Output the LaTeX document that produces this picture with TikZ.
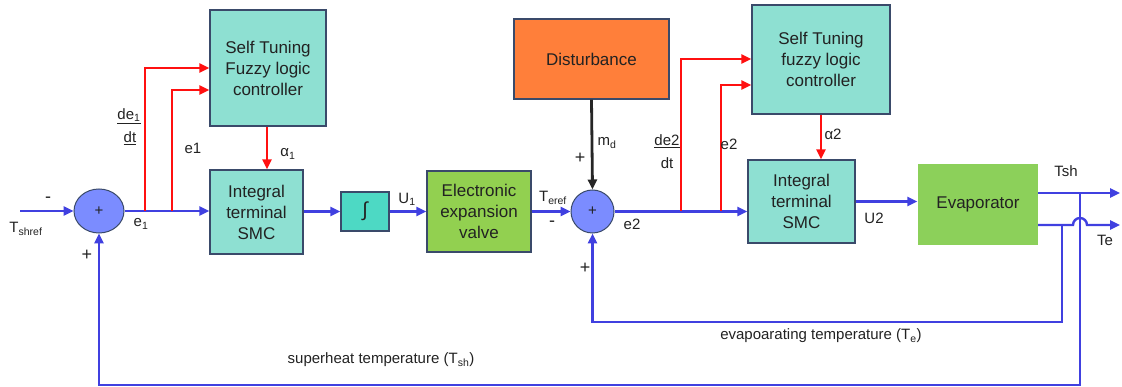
\documentclass[tikz,border=0pt]{standalone}
\usepackage{fontspec}
\setmainfont{Liberation Sans}
\usetikzlibrary{arrows.meta}
\definecolor{bl}{HTML}{4040E0}
\definecolor{rd}{HTML}{FF1010}
\definecolor{sumfill}{HTML}{7B8CFF}
\definecolor{fuzzyfill}{HTML}{8EE0D2}
\definecolor{intfill}{HTML}{4DD9C4}
\definecolor{eevfill}{HTML}{92D050}
\definecolor{evfill}{HTML}{8CD05A}
\definecolor{distfill}{HTML}{FF7F3A}
\definecolor{edge}{HTML}{3A4A6A}
\definecolor{txt}{HTML}{222222}
\tikzset{
  blk/.style={draw=edge, line width=1.3pt, inner sep=0pt, align=center, text=txt,
    font=\fontsize{17}{21}\selectfont},
  sumnode/.style={ellipse, draw=edge, line width=1pt, fill=sumfill, inner sep=0pt,
    font=\fontsize{15}{16}\selectfont, text=txt},
  bline/.style={bl, line width=2.4pt},
  rline/.style={rd, line width=2.4pt},
  arr/.style={-{Triangle[length=10pt,width=9pt]}},
  lbl/.style={text=txt, font=\fontsize{15}{18}\selectfont, inner sep=0pt},
  sgn/.style={text=txt, font=\fontsize{18}{18}\selectfont, inner sep=0pt},
}
\usetikzlibrary{shapes.geometric}
\begin{document}
\begin{tikzpicture}[x=1pt,y=-1pt]
\useasboundingbox (0,0) rectangle (1122,387);
% nodes
\node[sumnode, minimum width=50pt, minimum height=44pt] (sum1) at (99,211) {+};
\node[sumnode, minimum width=43pt, minimum height=43pt] (sum2) at (592.5,211.5) {+};
\node[blk, fill=fuzzyfill, minimum width=116pt, minimum height=116pt] (fz1) at (268,68) {Self Tuning\\Fuzzy logic\\controller};
\node[blk, fill=fuzzyfill, minimum width=93pt, minimum height=84pt] (smc1) at (256.5,212) {Integral\\terminal\\SMC};
\node[blk, fill=intfill, minimum width=48pt, minimum height=39pt, font=\fontsize{20}{24}\selectfont] (int) at (365,211.5) {∫};
\node[blk, fill=eevfill, minimum width=104pt, minimum height=81pt] (eev) at (479,211.5) {Electronic\\expansion\\valve};
\node[blk, fill=distfill, minimum width=155pt, minimum height=80pt] (dist) at (591.5,59) {Disturbance};
\node[blk, fill=fuzzyfill, minimum width=138pt, minimum height=109pt] (fz2) at (821,59.5) {Self Tuning\\fuzzy logic\\controller};
\node[blk, fill=fuzzyfill, minimum width=107pt, minimum height=83pt] (smc2) at (801.5,201.5) {Integral\\terminal\\SMC};
\node[blk, draw=none, fill=evfill, minimum width=120pt, minimum height=81pt] (ev) at (978,204.5) {Evaporator};
% coordinates
\coordinate (in) at (20,211);
\coordinate (r1a) at (145,211);
\coordinate (r1b) at (172,211);
\coordinate (r2a) at (681,211);
\coordinate (r2b) at (721,211);
\coordinate (tshs) at (1038,193);
\coordinate (tshe) at (1120,193);
\coordinate (tes) at (1038,225);
\coordinate (tee) at (1120,225);
\coordinate (tshx) at (1080,193);
\coordinate (tshb) at (1080,385);
\coordinate (tex) at (1062,225);
\coordinate (teb) at (1062,322);
% blue main path
\draw[bline, arr] (in) -- (sum1.west);
\draw[bline, arr] (sum1.east) -- (sum1.east -| smc1.west);
\draw[bline, arr] (smc1.east |- int.west) -- (int.west);
\draw[bline, arr] (int.east) -- (int.east -| eev.west);
\draw[bline, arr] (eev.east |- sum2.west) -- (sum2.west);
\draw[bline, arr] (sum2.east) -- (sum2.east -| smc2.west);
\draw[bline, arr] (smc2.east) -- (smc2.east -| ev.west);
\draw[bline, arr] (tshs) -- (tshe);
\draw[bline, arr] (tes) -- (1073,225) arc (180:360:7) -- (tee);
% feedback
\draw[bline, arr] (tshx) -- (tshb) -- (tshb -| sum1.south) -- (sum1.south);
\draw[bline, arr] (tex) -- (teb) -- (teb -| sum2.south) -- (sum2.south);
% disturbance
\draw[black!85, line width=2.8pt, arr] (dist.south) -- (sum2.north);
% red
\draw[rline, arr] (r1a) -- (145,68) -- (fz1.west |- 145,68);
\draw[rline, arr] (r1b) -- (172,90) -- (fz1.west |- 172,90);
\draw[rline, arr] (r2a) -- (681,59) -- (fz2.west |- 681,59);
\draw[rline, arr] (r2b) -- (721,85) -- (fz2.west |- 721,85);
\draw[rline, arr] (fz1.south -| 267,0) -- (smc1.north -| 267,0);
\draw[rline, arr] (fz2.south) -- (smc2.north -| fz2.south);
% labels
\node[sgn] (m1) at (48,200) {-};
\node[lbl] (tsr) at (26,229) {T\textsubscript{shref}};
\node[sgn] (p1) at (87,255) {+};
\node[lbl] (e1b) at (141,224) {e\textsubscript{1}};
\node[lbl] (de1) at (129,116) {\underline{de\textsubscript{1}}};
\node[lbl] (dt1) at (130,138) {\underline{dt}};
\node[lbl] (e1a) at (193,148) {e1};
\node[lbl] (al1) at (288,154) {α\textsubscript{1}};
\node[lbl] (u1) at (407,199) {U\textsubscript{1}};
\node[lbl] (ter) at (553,198) {T\textsubscript{eref}};
\node[sgn] (m2) at (552,224) {-};
\node[lbl] (md) at (607,143) {m\textsubscript{d}};
\node[sgn] (p2) at (580,158) {+};
\node[sgn] (p3) at (585,268) {+};
\node[lbl] (e2b) at (632,224) {e2};
\node[lbl] (de2) at (667,141) {\underline{de2}};
\node[lbl] (dt2) at (667,163) {dt};
\node[lbl] (e2a) at (729,144) {e2};
\node[lbl] (al2) at (833,134) {α2};
\node[lbl] (u2) at (874,218) {U2};
\node[lbl] (tshl) at (1066,171) {Tsh};
\node[lbl] (tel) at (1105,240) {Te};
\node[lbl] (evt) at (821,336) {evapoarating temperature (T\textsubscript{e})};
\node[lbl] (sht) at (381,360) {superheat temperature (T\textsubscript{sh})};
\end{tikzpicture}
\end{document}
